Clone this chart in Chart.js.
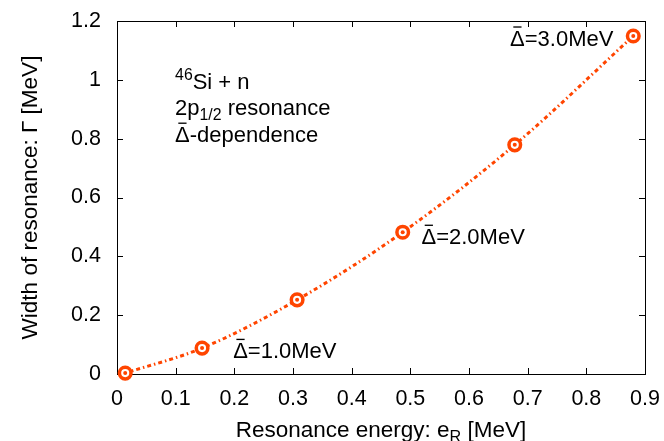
<!DOCTYPE html>
<html>
<head>
<meta charset="utf-8">
<script src="https://cdn.jsdelivr.net/npm/chart.js@4"></script>
<style>
  body { margin: 0; background: #fff; }
  canvas { display: block; }
</style>
</head>
<body>
<canvas id="my-chart" width="664" height="441"></canvas>
<script>
// resonance energy e_R [MeV] and width Gamma [MeV]
const energy = [0.014, 0.145, 0.307, 0.487, 0.678, 0.880];
const width = [0.003, 0.088, 0.252, 0.482, 0.779, 1.149];

const xTickLabels = ['0', '0.1', '0.2', '0.3', '0.4', '0.5', '0.6', '0.7', '0.8', '0.9'];
const yTickLabels = ['0', '0.2', '0.4', '0.6', '0.8', '1', '1.2'];

// labels next to the curve, in data units
const deltaLabels = ['=1.0MeV', '=2.0MeV', '=3.0MeV'];
const deltaLabelX = [0.198, 0.519, 0.670];
const deltaLabelY = [0.054, 0.442, 1.116];

const FONT = '"Liberation Sans", Arial, sans-serif';
const RED = '#ff4500';

// Delta with a bar over it, returns its width
function deltaBar(ctx, x, y, size) {
  ctx.font = size + 'px ' + FONT;
  ctx.fillText('\u0394', x, y);
  const w = ctx.measureText('\u0394').width;
  ctx.fillRect(x + w * 0.22, y - size * 0.88, w * 0.56, Math.max(1, size * 0.06));
  return w;
}

// draw a row of text pieces, some raised or lowered
function richText(ctx, parts, x, y, size, measureOnly) {
  let cx = x;
  parts.forEach(p => {
    let s = size, dy = 0;
    if (p.sup) { s = size * 0.72; dy = -size * 0.42; }
    if (p.sub) { s = size * 0.72; dy = size * 0.24; }
    if (p.delta) {
      ctx.font = size + 'px ' + FONT;
      cx += measureOnly ? ctx.measureText('\u0394').width : deltaBar(ctx, cx, y, size);
      return;
    }
    ctx.font = s + 'px ' + FONT;
    if (!measureOnly) ctx.fillText(p.t, cx, y + dy);
    cx += ctx.measureText(p.t).width;
  });
  return cx - x;
}

const framePlugin = {
  id: 'frame',
  beforeDatasetsDraw(chart) {
    const ctx = chart.ctx;
    const a = chart.chartArea;
    const xs = chart.scales.x, ys = chart.scales.y;
    ctx.save();
    ctx.strokeStyle = '#000';
    ctx.lineWidth = 1;
    ctx.strokeRect(a.left + 0.5, a.top + 0.5, a.right - a.left, a.bottom - a.top);
    const tl = 6;
    ctx.beginPath();
    xs.ticks.forEach(t => {
      const px = Math.round(xs.getPixelForValue(t.value)) + 0.5;
      ctx.moveTo(px, a.bottom); ctx.lineTo(px, a.bottom - tl);
      ctx.moveTo(px, a.top); ctx.lineTo(px, a.top + tl);
    });
    ys.ticks.forEach(t => {
      const py = Math.round(ys.getPixelForValue(t.value)) + 0.5;
      ctx.moveTo(a.left, py); ctx.lineTo(a.left + tl, py);
      ctx.moveTo(a.right, py); ctx.lineTo(a.right - tl, py);
    });
    ctx.stroke();
    ctx.restore();
  },
  afterDraw(chart) {
    const ctx = chart.ctx;
    const a = chart.chartArea;
    const xs = chart.scales.x, ys = chart.scales.y;
    const size = 22.5;
    const asize = 22;
    ctx.save();
    ctx.fillStyle = '#000';
    ctx.textBaseline = 'alphabetic';
    ctx.textAlign = 'left';

    // x axis title
    const xParts = [{t: 'Resonance energy: e'}, {t: 'R', sub: true}, {t: ' [MeV]'}];
    const xw = richText(ctx, xParts, 0, 0, size, true);
    richText(ctx, xParts, (a.left + a.right) / 2 - xw / 2, 437, size);

    // y axis title
    ctx.save();
    ctx.translate(37, (a.top + a.bottom) / 2);
    ctx.rotate(-Math.PI / 2);
    ctx.font = size + 'px ' + FONT;
    ctx.textAlign = 'center';
    ctx.fillText('Width of resonance: \u0393 [MeV]', 0, 0);
    ctx.restore();

    // delta labels
    deltaLabels.forEach((s, i) => {
      richText(ctx, [{delta: true}, {t: s}], xs.getPixelForValue(deltaLabelX[i]), ys.getPixelForValue(deltaLabelY[i]), asize);
    });

    // info block
    const bx = xs.getPixelForValue(0.099);
    richText(ctx, [{t: '46', sup: true}, {t: 'Si + n'}], bx, ys.getPixelForValue(0.969), asize);
    richText(ctx, [{t: '2p'}, {t: '1/2', sub: true}, {t: ' resonance'}], bx, ys.getPixelForValue(0.880), asize);
    richText(ctx, [{delta: true}, {t: '-dependence'}], bx, ys.getPixelForValue(0.789), asize);
    ctx.restore();
  }
};

const points = energy.map((e, i) => ({x: e, y: width[i]}));

const ctx = document.getElementById('my-chart').getContext('2d');
const chart = new Chart(ctx, {
  type: 'scatter',
  data: {
    datasets: [
      {
        data: points,
        order: 1,
        showLine: true,
        borderColor: RED,
        borderWidth: 3,
        borderDash: [4, 3, 1.5, 3],
        cubicInterpolationMode: 'monotone',
        pointRadius: 5.8,
        pointBorderWidth: 3.5,
        pointBorderColor: RED,
        pointBackgroundColor: '#fff',
        pointHoverRadius: 5.8,
        clip: false
      },
      {
        data: points,
        order: 0,
        showLine: false,
        pointRadius: 2,
        pointBorderWidth: 0,
        pointBackgroundColor: RED,
        clip: false
      }
    ]
  },
  plugins: [framePlugin],
  options: {
    responsive: false,
    devicePixelRatio: 1,
    animation: false,
    layout: { padding: { left: 0, top: 21, right: 19, bottom: 0 } },
    plugins: { legend: { display: false }, tooltip: { enabled: false } },
    scales: {
      x: {
        type: 'linear',
        min: 0, max: 0.9,
        grid: { display: false },
        border: { display: false },
        ticks: {
          stepSize: 0.1,
          padding: 4,
          color: '#000',
          font: { family: FONT, size: 21.5 },
          maxRotation: 0,
          autoSkip: false,
          callback: (v, i) => xTickLabels[i]
        },
        afterFit(scale) {
          scale.height = 67;
          scale.paddingLeft = 0;
          scale.paddingRight = 0;
        }
      },
      y: {
        type: 'linear',
        min: 0, max: 1.2,
        grid: { display: false },
        border: { display: false },
        ticks: {
          stepSize: 0.2,
          padding: 8,
          color: '#000',
          font: { family: FONT, size: 21.5 },
          autoSkip: false,
          callback: (v, i) => yTickLabels[i]
        },
        afterFit(scale) {
          scale.width = 117;
          scale.paddingTop = 0;
          scale.paddingBottom = 0;
        }
      }
    }
  }
});
</script>
</body>
</html>
